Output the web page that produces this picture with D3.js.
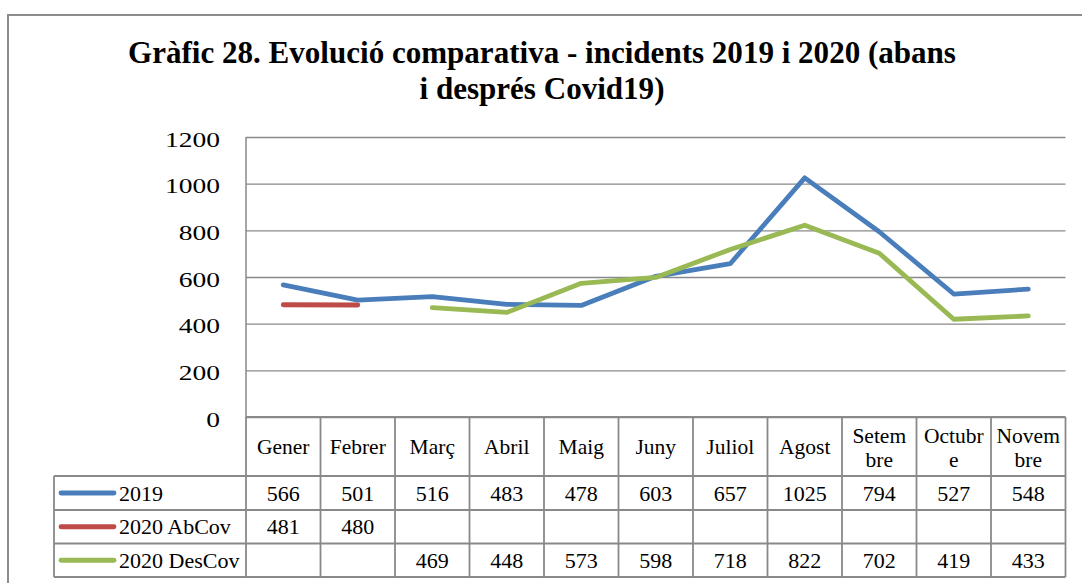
<!DOCTYPE html>
<html>
<head>
<meta charset="utf-8">
<script src="https://cdn.jsdelivr.net/npm/d3@7"></script>
<style>
  html, body { margin: 0; padding: 0; background: #fff; }
  svg { display: block; }
  text { font-family: "Liberation Serif", "Times New Roman", serif; fill: #000; }
</style>
</head>
<body>
<svg id="chart" width="1082" height="583"></svg>
<script>
// ---- data ----
const months = ["Gener", "Febrer", "Març", "Abril", "Maig", "Juny", "Juliol", "Agost", "Setembre", "Octubre", "Novembre"];
const monthLabels = ["Gener", "Febrer", "Març", "Abril", "Maig", "Juny", "Juliol", "Agost", "Setem\nbre", "Octubr\ne", "Novem\nbre"];
const seriesNames = ["2019", "2020 AbCov", "2020 DesCov"];
const values2019 = [566, 501, 516, 483, 478, 603, 657, 1025, 794, 527, 548];
const values2020AbCov = [481, 480, null, null, null, null, null, null, null, null, null];
const values2020DesCov = [null, null, 469, 448, 573, 598, 718, 822, 702, 419, 433];
const yTicks = [0, 200, 400, 600, 800, 1000, 1200];
const titleLines = ["Gràfic 28. Evolució comparativa - incidents 2019 i 2020 (abans", "i després Covid19)"];
const seriesColors = ["#4A7EBB", "#BE4B48", "#98B954"];

const series = [values2019, values2020AbCov, values2020DesCov];

// ---- layout ----
const svg = d3.select("#chart");
const plotLeft = 246, plotRight = 1065.5, plotTop = 137, plotBottom = 417;
const legendLeft = 54;
const rowEdges = [417, 476, 510, 543.5, 577];
const gridColor = "#898989";

const x = d3.scaleBand().domain(months).range([plotLeft, plotRight]);
const y = d3.scaleLinear().domain([0, 1200]).range([plotBottom, plotTop]);

// outer frame
svg.append("path")
  .attr("d", "M8,583 L8,15 L1082,15")
  .attr("fill", "none").attr("stroke", "#8c8c8c").attr("stroke-width", 2);

// title
const titleG = svg.append("g").attr("class", "title");
titleLines.forEach((t, i) => {
  titleG.append("text")
    .attr("x", 542).attr("y", 63 + i * 36)
    .attr("text-anchor", "middle")
    .attr("font-weight", "bold")
    .attr("font-size", 31)
    .text(t);
});
// fit first title line to width
{
  const t0 = titleG.select("text").node();
  const w = t0.getComputedTextLength();
  const fs = 31 * 828 / w;
  titleG.selectAll("text").attr("font-size", fs);
}

// y axis with gridlines
const yAxis = d3.axisLeft(y).tickValues(yTicks).tickFormat(d3.format("d"))
  .tickSize(-(plotRight - plotLeft)).tickPadding(0);
const gy = svg.append("g").attr("transform", `translate(${plotLeft},0)`).call(yAxis);
gy.select(".domain").remove();
gy.selectAll(".tick line").attr("stroke", gridColor).attr("stroke-width", 1.3);
gy.selectAll(".tick text")
  .attr("x", 0).attr("dy", null).attr("y", 0)
  .attr("font-size", 22)
  .attr("text-anchor", "end")
  .attr("fill", "#000")
  .attr("transform", "translate(-26,9) scale(1.25,1)")
  .style("font-family", '"Liberation Serif", serif');

// left axis line
svg.append("line")
  .attr("x1", plotLeft).attr("x2", plotLeft)
  .attr("y1", plotTop).attr("y2", plotBottom)
  .attr("stroke", gridColor).attr("stroke-width", 1.5);

// ---- data table ----
const tbl = svg.append("g").attr("class", "table");
// horizontal lines
tbl.append("line").attr("x1", plotLeft).attr("x2", plotRight).attr("y1", rowEdges[0]).attr("y2", rowEdges[0])
  .attr("stroke", gridColor).attr("stroke-width", 1.8);
rowEdges.slice(1).forEach(ry => {
  tbl.append("line").attr("x1", legendLeft).attr("x2", plotRight).attr("y1", ry).attr("y2", ry)
    .attr("stroke", gridColor).attr("stroke-width", 1.8);
});
// vertical lines
const colEdges = months.map(m => x(m)).concat([x(months[months.length - 1]) + x.bandwidth()]);
colEdges.forEach(cx => {
  tbl.append("line").attr("x1", cx).attr("x2", cx).attr("y1", rowEdges[0]).attr("y2", rowEdges[4])
    .attr("stroke", gridColor).attr("stroke-width", 1.8);
});
tbl.append("line").attr("x1", legendLeft).attr("x2", legendLeft).attr("y1", rowEdges[1]).attr("y2", rowEdges[4])
  .attr("stroke", gridColor).attr("stroke-width", 1.8);

// header labels
months.forEach((m, i) => {
  const parts = monthLabels[i].split("\n");
  const cx = x(m) + x.bandwidth() / 2;
  const t = tbl.append("text").attr("text-anchor", "middle").attr("font-size", 21.5);
  if (parts.length === 1) {
    t.append("tspan").attr("x", cx).attr("y", 454).text(parts[0]);
  } else {
    t.append("tspan").attr("x", cx).attr("y", 443).text(parts[0]);
    t.append("tspan").attr("x", cx).attr("y", 467).text(parts[1]);
  }
});

// value rows + legend
series.forEach((vals, si) => {
  const r0 = rowEdges[si + 1], r1 = rowEdges[si + 2];
  const cy = (r0 + r1) / 2;
  tbl.append("line")
    .attr("x1", 61).attr("x2", 114).attr("y1", cy).attr("y2", cy)
    .attr("stroke", seriesColors[si]).attr("stroke-width", 4.8).attr("stroke-linecap", "round");
  tbl.append("text").attr("x", 119).attr("y", cy + 7.5).attr("font-size", 22).text(seriesNames[si]);
  vals.forEach((v, i) => {
    if (v == null) return;
    tbl.append("text")
      .attr("x", x(months[i]) + x.bandwidth() / 2)
      .attr("y", cy + 7.5)
      .attr("text-anchor", "middle")
      .attr("font-size", 22)
      .text(v);
  });
});

// ---- lines ----
const line = d3.line()
  .defined(d => d.v != null)
  .x(d => x(d.m) + x.bandwidth() / 2)
  .y(d => y(d.v));

series.forEach((vals, si) => {
  const data = vals.map((v, i) => ({ m: months[i], v }));
  svg.append("path")
    .datum(data)
    .attr("d", line)
    .attr("fill", "none")
    .attr("stroke", seriesColors[si])
    .attr("stroke-width", 4.8)
    .attr("stroke-linejoin", "round")
    .attr("stroke-linecap", "round");
});
</script>
</body>
</html>
